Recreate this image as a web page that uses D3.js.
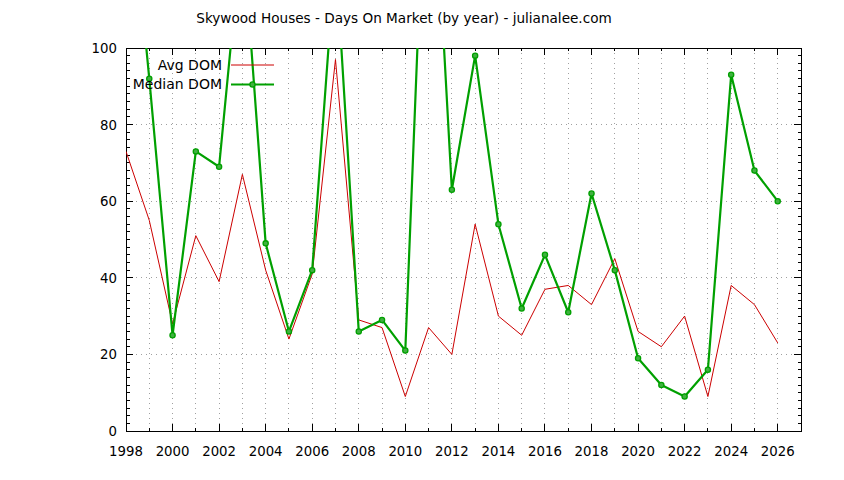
<!DOCTYPE html>
<html><head><meta charset="utf-8">
<script src="https://cdn.jsdelivr.net/npm/d3@7"></script>
<style>body{margin:0;background:#fff}svg text{font-family:"DejaVu Sans",sans-serif;font-size:13px;fill:#000}</style>
</head><body>
<svg id="c" width="844" height="480"></svg>
<script>
const years = d3.range(1998, 2027);
const avgDom = [73,55,28,51,39,67,42,24,41,97,29,27,9,27,20,54,30,25,37,38,33,45,26,22,30,9,38,33,23];
const medianDom = [155,92,25,73,69,132,49,26,42,125,26,29,21,173,63,98,54,32,46,31,62,42,19,12,9,16,93,68,60];
const xTickLabels = d3.range(1998, 2027, 2);
const yTickLabels = [0,20,40,60,80,100];
const title = "Skywood Houses - Days On Market (by year) - julianalee.com";

const svg = d3.select("#c");
const L=126, R=801, T=48, B=431;
const x = d3.scaleLinear().domain([1998,2027]).range([L,R]);
const y = d3.scaleLinear().domain([0,100]).range([B,T]);

svg.append("text").attr("x",404).attr("y",23).attr("text-anchor","middle").style("font-size","13.6px").text(title);

// grid
const g = svg.append("g");
g.selectAll(".vg").data(d3.range(1999,2027)).join("line")
 .attr("x1",d=>x(d)).attr("x2",d=>x(d)).attr("y1",T).attr("y2",B)
 .attr("stroke","#a0a0a0").attr("stroke-width",1).attr("stroke-dasharray","1,4").attr("shape-rendering","crispEdges");
g.selectAll(".hg").data([20,40,60,80]).join("line")
 .attr("x1",L).attr("x2",R).attr("y1",d=>y(d)).attr("y2",d=>y(d))
 .attr("stroke","#a0a0a0").attr("stroke-width",1).attr("stroke-dasharray","1,4").attr("shape-rendering","crispEdges");

// axes
const ax = svg.append("g").attr("shape-rendering","crispEdges");
function ticks(vals, len, orient){
  vals.forEach(v=>{
    if(orient==="x"){
      ax.append("line").attr("x1",x(v)).attr("x2",x(v)).attr("y1",B).attr("y2",B-len).attr("stroke","#000");
      ax.append("line").attr("x1",x(v)).attr("x2",x(v)).attr("y1",T).attr("y2",T+len).attr("stroke","#000");
    } else {
      ax.append("line").attr("y1",y(v)).attr("y2",y(v)).attr("x1",L).attr("x2",L+len).attr("stroke","#000");
      ax.append("line").attr("y1",y(v)).attr("y2",y(v)).attr("x1",R).attr("x2",R-len).attr("stroke","#000");
    }
  });
}
ticks(d3.range(1999,2027,2),3,"x");
ticks(xTickLabels,7,"x");
ticks(d3.range(0,101,2).filter(v=>v%20!==0),3.5,"y");
ticks(yTickLabels,7,"y");
ax.append("rect").attr("x",L).attr("y",T).attr("width",R-L).attr("height",B-T).attr("fill","none").attr("stroke","#000");

svg.selectAll(".xl").data(xTickLabels).join("text")
 .attr("x",d=>x(d)).attr("y",456).attr("text-anchor","middle").style("font-size","13.3px").text(d=>d);
svg.selectAll(".yl").data(yTickLabels).join("text")
 .attr("x",117).attr("y",d=>y(d)+5).attr("text-anchor","end").style("font-size","13.3px").text(d=>d);

svg.append("clipPath").attr("id","clip").append("rect").attr("x",L).attr("y",T).attr("width",R-L).attr("height",B-T);
const plot = svg.append("g").attr("clip-path","url(#clip)");
const line = d3.line().x((d,i)=>x(years[i])).y(d=>y(d));
const red="#cc0000", green="#00a000";
plot.append("path").datum(avgDom).attr("d",line).attr("fill","none").attr("stroke",red).attr("stroke-width",1);
plot.append("path").datum(medianDom).attr("d",line).attr("fill","none").attr("stroke",green).attr("stroke-width",2.2).attr("stroke-linejoin","round");
plot.selectAll(".pt").data(medianDom).join("circle")
 .attr("cx",(d,i)=>x(years[i])).attr("cy",d=>y(d)).attr("r",2.6)
 .attr("fill","#40b040").attr("stroke",green).attr("stroke-width",1.3);

// legend
svg.append("text").attr("x",222).attr("y",70).attr("text-anchor","end").style("font-size","14px").text("Avg DOM");
svg.append("line").attr("x1",231).attr("x2",274).attr("y1",65).attr("y2",65).attr("stroke",red).attr("stroke-width",1);
svg.append("text").attr("x",222).attr("y",89).attr("text-anchor","end").style("font-size","14px").text("Median DOM");
svg.append("line").attr("x1",231).attr("x2",274).attr("y1",84.5).attr("y2",84.5).attr("stroke",green).attr("stroke-width",2.2);
svg.append("circle").attr("cx",252.5).attr("cy",84.5).attr("r",2.6).attr("fill","#40b040").attr("stroke",green).attr("stroke-width",1.3);
</script>
</body></html>
